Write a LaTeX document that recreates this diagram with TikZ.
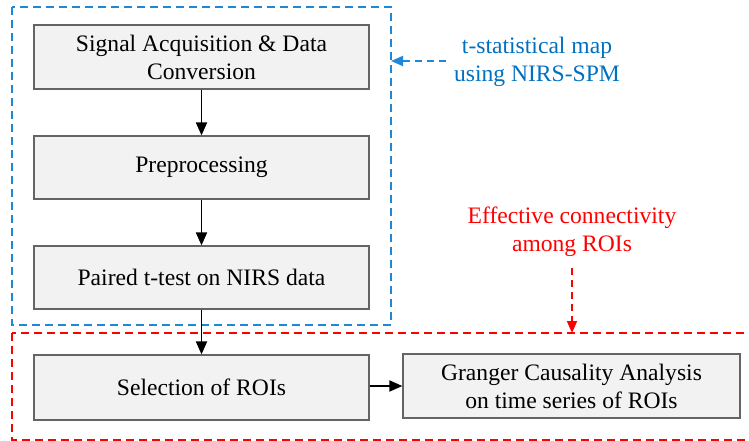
\documentclass[tikz,border=0pt]{standalone}
\usepackage{fontspec}
\setmainfont{Liberation Serif}
\usetikzlibrary{arrows.meta}
\definecolor{boxfill}{RGB}{242,242,242}
\definecolor{boxline}{RGB}{100,100,100}
\definecolor{bluegrp}{RGB}{30,136,216}
\definecolor{bluetext}{RGB}{0,112,192}
\definecolor{redgrp}{RGB}{255,0,0}
\tikzset{
  stepbox/.style={draw=boxline, line width=1.2pt, fill=boxfill,
    minimum width=335pt, minimum height=64pt, inner sep=0pt,
    align=center, font=\fontsize{23.6}{28}\selectfont},
  flow/.style={line width=1.8pt, -{Triangle[length=13pt,width=11pt]}},
  grpblue/.style={draw=bluegrp, line width=1.8pt, dash pattern=on 8pt off 5pt},
  grpred/.style={draw=redgrp, line width=1.8pt, dash pattern=on 8pt off 5pt},
  note/.style={align=center, font=\fontsize{23.6}{28}\selectfont, inner sep=0pt}
}
\begin{document}
\begin{tikzpicture}[x=1pt,y=-1pt]
  \useasboundingbox (0,0) rectangle (749,441);

  % group frames
  \draw[grpblue] (12,7) rectangle (391,325);
  \draw[grpred] (12,333) rectangle (752,440);

  % processing steps
  \node[stepbox] (acq) at (201.5,57) {Signal Acquisition \& Data\\Conversion};
  \node[stepbox, minimum height=63pt] (pre) at (201.5,167.5) {Preprocessing};
  \node[stepbox, minimum height=63pt] (ttest) at (201.5,277.5) {Paired t-test on NIRS data};
  \node[stepbox, minimum height=65pt] (roi) at (201.5,387.5) {Selection of ROIs};
  \node[stepbox, minimum width=337pt] (gca) at (571.5,386) {Granger Causality Analysis\\on time series of ROIs};

  \draw[flow] (acq) -- (pre);
  \draw[flow] (pre) -- (ttest);
  \draw[flow] (ttest) -- (roi);
  \draw[flow] (roi.east |- gca.west) -- (gca.west);

  % annotations
  \node[note, text=bluetext] (tmap) at (537,62) {t-statistical map\\using NIRS-SPM};
  \coordinate (bluein) at (391,61);
  \draw[draw=bluegrp, line width=1.8pt, dash pattern=on 7pt off 5pt,
        -{Triangle[length=12pt,width=10pt]}] (tmap.west |- bluein) ++(-8,0) -- (bluein);

  \node[note, text=redgrp] (eff) at (572,232) {Effective connectivity\\among ROIs};
  \coordinate (redin) at (572,333);
  \draw[draw=redgrp, line width=1.8pt, dash pattern=on 7pt off 5pt,
        -{Triangle[length=12pt,width=10pt]}] (572,268) -- (redin);
\end{tikzpicture}
\end{document}
